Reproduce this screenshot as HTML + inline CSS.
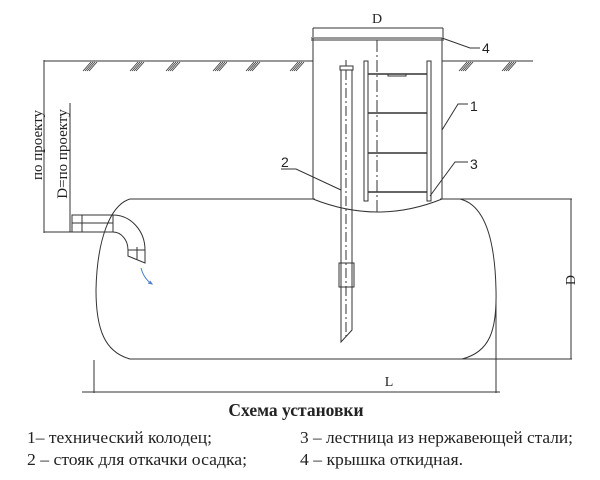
<!DOCTYPE html>
<html><head><meta charset="utf-8"><style>
body{margin:0;background:#fff;width:600px;height:480px;overflow:hidden}
svg{position:absolute;left:0;top:0}
.t{font-family:"Liberation Serif",serif;fill:#222}
.c{font-family:"Liberation Sans","DejaVu Sans",sans-serif;fill:#222}
</style></head><body>
<svg width="600" height="480" viewBox="0 0 600 480" fill="none" stroke="#333" stroke-width="1">
<line x1="44" y1="61" x2="313" y2="61"/>
<line x1="442" y1="61" x2="533" y2="61"/>
<g stroke-width="0.8">
<path d="M83 71l8-9M85 71l8-9M87 71l8-9M89 71l8-9"/>
<path d="M130 71l8-9M132 71l8-9M134 71l8-9M136 71l8-9"/>
<path d="M166 71l8-9M168 71l8-9M170 71l8-9M172 71l8-9"/>
<path d="M213 71l8-9M215 71l8-9M217 71l8-9M219 71l8-9"/>
<path d="M246 71l8-9M248 71l8-9M250 71l8-9M252 71l8-9"/>
<path d="M290 71l8-9M292 71l8-9M294 71l8-9M296 71l8-9"/>
<path d="M459 71l8-9M461 71l8-9M463 71l8-9M465 71l8-9"/>
<path d="M502 71l8-9M504 71l8-9M506 71l8-9M508 71l8-9"/>
</g>
<line x1="44" y1="60" x2="44" y2="233"/>
<line x1="44" y1="232" x2="72" y2="232"/>
<line x1="70" y1="103" x2="70" y2="232"/>
<path d="M130 199 L315 199 M440 199 L460 199 C485 205 495 240 496 290 C497 330 490 352 462 359 L130 359 C105 352 96 330 96 290 C97 240 110 205 130 199"/>
<line x1="460" y1="199" x2="572" y2="199"/>
<line x1="462" y1="359" x2="572" y2="359"/>
<line x1="571" y1="199" x2="571" y2="359"/>
<line x1="94" y1="360" x2="94" y2="393"/>
<line x1="496" y1="300" x2="496" y2="393"/>
<line x1="82" y1="392" x2="500" y2="392"/>
<path d="M72 215 L113 215 A32 35 0 0 1 145 250 L145 263 L128 256 L128 250 A15 18 0 0 0 113 232 L72 232 Z"/>
<line x1="72" y1="223" x2="113" y2="223"/>
<line x1="82" y1="215" x2="82" y2="232"/>
<line x1="113" y1="215" x2="113" y2="232"/>
<line x1="128" y1="250" x2="145" y2="250"/>
<line x1="137" y1="247" x2="137" y2="260"/>
<path d="M141 268 q3 11 11 16 M148 283 l4 1 l-2 -3" stroke="#4a7fd0"/>
<line x1="313" y1="38" x2="313" y2="199"/>
<line x1="442" y1="38" x2="442" y2="199"/>
<line x1="311" y1="38" x2="444" y2="38"/>
<line x1="311" y1="40" x2="444" y2="40"/>
<path d="M313 199 Q378 225 442 199"/>
<line x1="313" y1="28" x2="443" y2="28"/>
<line x1="313" y1="28" x2="313" y2="37"/>
<line x1="443" y1="28" x2="443" y2="37"/>
<line x1="377" y1="40" x2="377" y2="212" stroke-dasharray="12 3 2 3"/>
<rect x="364" y="61" width="4" height="140"/>
<rect x="427" y="61" width="4" height="140"/>
<g stroke-width="1.5"><line x1="368" y1="74" x2="427" y2="74"/><line x1="368" y1="113" x2="427" y2="113"/><line x1="368" y1="153" x2="427" y2="153"/><line x1="368" y1="192" x2="427" y2="192"/></g>
<rect x="388" y="74" width="18" height="2"/>
<rect x="340" y="66" width="13" height="4"/>
<line x1="346" y1="60" x2="346" y2="66"/>
<path d="M341 70 L341 342 L352 330 L352 70"/>
<line x1="346" y1="70" x2="346" y2="340" stroke-dasharray="10 3 2 3"/>
<rect x="339" y="263" width="15" height="24"/>
<path d="M281 169 L296 169 L341 190"/>
<path d="M442 130 L458 104 L468 104"/>
<path d="M430 196 L455 162 L468 162"/>
<path d="M442 38 L470 48 L480 48"/>
</svg>
<svg width="600" height="480" viewBox="0 0 600 480">
<text x="377" y="23" class="t" font-size="14" text-anchor="middle">D</text>
<text x="482" y="53" class="c" font-size="14">4</text>
<text x="470" y="111" class="c" font-size="14">1</text>
<text x="470" y="169" class="c" font-size="14">3</text>
<text x="281" y="167" class="c" font-size="14">2</text>
<text x="389" y="386" class="t" font-size="14" text-anchor="middle">L</text>
<text transform="translate(575,280) rotate(-90)" class="t" font-size="14" text-anchor="middle">D</text>
<text transform="translate(42,145) rotate(-90)" class="t" font-size="15" text-anchor="middle">по проекту</text>
<text transform="translate(67,154) rotate(-90)" class="t" font-size="15" text-anchor="middle">D=по проекту</text>
<text x="296" y="416" class="t" font-size="17.5" font-weight="bold" text-anchor="middle">Схема установки</text>
<text x="27" y="443" class="t" font-size="17" textLength="185" lengthAdjust="spacingAndGlyphs">1– технический колодец;</text>
<text x="300" y="443" class="t" font-size="17" textLength="273" lengthAdjust="spacingAndGlyphs">3 – лестница из нержавеющей стали;</text>
<text x="27" y="465" class="t" font-size="17" textLength="220" lengthAdjust="spacingAndGlyphs">2 – стояк для откачки осадка;</text>
<text x="300" y="465" class="t" font-size="17" textLength="163" lengthAdjust="spacingAndGlyphs">4 – крышка откидная.</text>
</svg>
</body></html>
